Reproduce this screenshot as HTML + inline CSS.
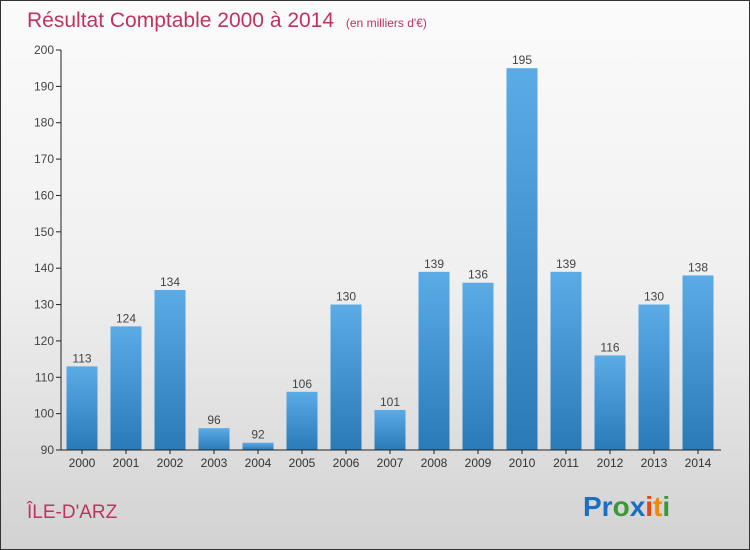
<!DOCTYPE html>
<html><head><meta charset="utf-8"><style>
body{margin:0}
#root{position:relative;width:748px;height:548px;border:1px solid #333;background:linear-gradient(#fbfbfb 0%,#f0f0f0 50%,#d2d2d2 100%);font-family:"Liberation Sans",sans-serif;overflow:hidden}
</style></head><body>
<div id="root">
<svg width="748" height="548">
<defs><linearGradient id="bg" x1="0" x2="0" y1="0" y2="1"><stop offset="0" stop-color="#5aabe6"/><stop offset="1" stop-color="#2a7ab8"/></linearGradient></defs>
<text x="26" y="26" font-size="21" fill="#c0335f">Résultat Comptable 2000 à 2014 <tspan font-size="12" dx="6">(en milliers d'€)</tspan></text>
<g id="plot"></g>
<text x="26" y="517" font-size="19" fill="#c0335f">ÎLE-D'ARZ</text>
<text x="582" y="515" font-size="28" font-weight="bold"><tspan fill="#1a6fc4">Pr</tspan><tspan fill="#3a9a3a">o</tspan><tspan fill="#1a6fc4">x</tspan><tspan fill="#e8450f">i</tspan><tspan fill="#f08a00">t</tspan><tspan fill="#3a9a3a">i</tspan></text>
</svg>
</div>
<script>
const categories=["2000","2001","2002","2003","2004","2005","2006","2007","2008","2009","2010","2011","2012","2013","2014"];
const values=[113,124,134,96,92,106,130,101,139,136,195,139,116,130,138];
const yTicks=[90,100,110,120,130,140,150,160,170,180,190,200];
const ns="http://www.w3.org/2000/svg";
const g=document.getElementById('plot');
const y=v=>449-(v-90)*(400/110);
const x=i=>81+i*44;
function mk(t,a){const e=document.createElementNS(ns,t);for(const k in a)e.setAttribute(k,a[k]);g.appendChild(e);return e;}
yTicks.forEach(v=>{
 const l=mk('line',{x1:55,x2:60,y1:y(v),y2:y(v),stroke:'#222'});
 
 
 const t=mk('text',{x:53,y:y(v)+4,'text-anchor':'end','font-size':12,fill:'#444'});t.textContent=v;
 
 
});
values.forEach((v,i)=>{
 const r=mk('rect',{x:x(i)-15.5,y:y(v),width:31,height:y(90)-y(v),fill:'url(#bg)'});
 
 
 const t=mk('text',{x:x(i),y:y(v)-4,'text-anchor':'middle','font-size':12,fill:'#444'});t.textContent=v;
 
 
 const c=mk('text',{x:x(i),y:466,'text-anchor':'middle','font-size':12,fill:'#333'});c.textContent=categories[i];
 
 
 const tk=mk('line',{x1:x(i),x2:x(i),y1:y(90),y2:y(90)+4,stroke:'#222'});
 
 
});
const ya=mk('line',{x1:60,x2:60,y1:y(200),y2:y(90),stroke:'#222'});


const xa=mk('line',{x1:60,x2:720,y1:y(90),y2:y(90),stroke:'#222'});


</script>
</body></html>
